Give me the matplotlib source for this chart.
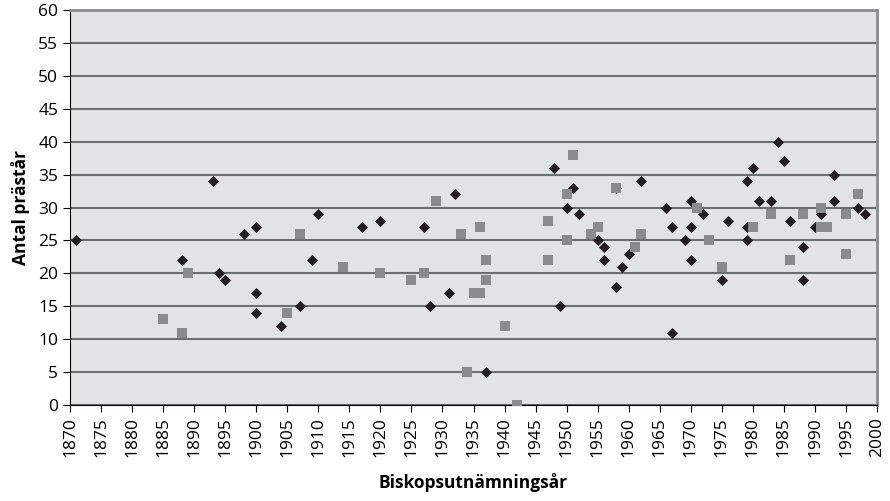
import matplotlib
matplotlib.use("Agg")
import matplotlib.pyplot as plt

plt.rcParams['font.family'] = ['Open Sans', 'DejaVu Sans']

# black diamonds
diamond_years = [1871, 1888, 1893, 1894, 1895, 1898, 1900, 1900, 1900, 1904, 1907,
                 1909, 1910, 1917, 1920, 1927, 1928, 1931, 1932, 1937,
                 1948, 1949, 1950, 1951, 1952, 1955, 1956, 1956, 1958, 1958, 1959,
                 1960, 1962, 1966, 1967, 1967, 1969, 1970, 1970, 1970, 1972,
                 1975, 1976, 1979, 1979, 1979, 1980, 1981, 1983, 1984, 1985, 1986,
                 1988, 1988, 1990, 1991, 1993, 1993, 1997, 1998]
diamond_values = [25, 22, 34, 20, 19, 26, 27, 17, 14, 12, 15,
                  22, 29, 27, 28, 27, 15, 17, 32, 5,
                  36, 15, 30, 33, 29, 25, 24, 22, 33, 18, 21,
                  23, 34, 30, 27, 11, 25, 31, 27, 22, 29,
                  19, 28, 34, 27, 25, 36, 31, 31, 40, 37, 28,
                  24, 19, 27, 29, 35, 31, 30, 29]

# grey squares
square_years = [1885, 1888, 1889, 1905, 1907, 1914, 1920, 1925, 1927, 1929, 1933,
                1934, 1935, 1936, 1936, 1937, 1937, 1940, 1942,
                1947, 1947, 1950, 1950, 1951, 1954, 1955, 1958, 1961, 1962,
                1971, 1973, 1975, 1980, 1983, 1986, 1988, 1991, 1991, 1992,
                1995, 1995, 1997]
square_values = [13, 11, 20, 14, 26, 21, 20, 19, 20, 31, 26,
                 5, 17, 17, 27, 22, 19, 12, 0,
                 28, 22, 32, 25, 38, 26, 27, 33, 24, 26,
                 30, 25, 21, 27, 29, 22, 29, 30, 27, 27,
                 29, 23, 32]

fig = plt.figure(figsize=(8.9, 5.01), dpi=100)
ax = fig.add_axes([70/890, 1 - 405/501, 807/890, 395/501])
ax.set_facecolor('#e2e3e5')

ax.scatter(diamond_years, diamond_values, marker='D', s=32, color='#231f20', zorder=3, linewidths=0)
ax.scatter(square_years, square_values, marker='s', s=42, color='#8a8b8d', zorder=4, linewidths=0)

ax.set_xlim(1870, 2000)
ax.set_ylim(0, 60)
ax.set_xticks(range(1870, 2001, 5))
ax.set_yticks(range(0, 61, 5))
ax.tick_params(axis='x', labelrotation=90, labelsize=12.5, direction='out', length=5, color='black')
ax.tick_params(axis='y', labelsize=12.5, direction='out', length=5, color='black')

ax.yaxis.grid(True, color='#6d6e70', linewidth=1.5)
ax.set_axisbelow(True)

for side in ['top', 'right']:
    ax.spines[side].set_color('#8a8b8d')
    ax.spines[side].set_linewidth(2)
ax.spines['left'].set_color('black')
ax.spines['bottom'].set_color('black')

ax.set_ylabel('Antal prästår', fontsize=12.5, fontweight='bold', labelpad=6)
ax.set_xlabel('Biskopsutnämningsår', fontsize=12.5, fontweight='bold', labelpad=12)

plt.savefig('out.png', dpi=100)
